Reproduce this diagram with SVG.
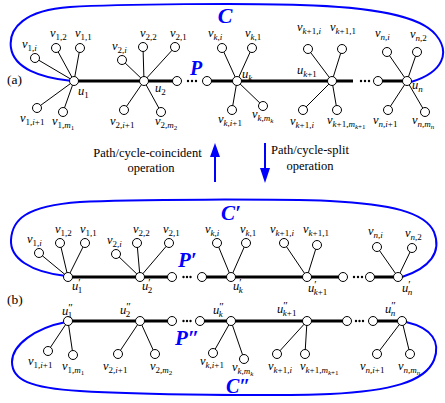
<svg xmlns="http://www.w3.org/2000/svg" width="445" height="403" viewBox="0 0 445 403">
<style>
.thin{stroke:#000;stroke-width:1}
.thick{stroke:#000;stroke-width:3}
.cyc{fill:none;stroke:#0000ff;stroke-width:2}
.n{fill:#fff;stroke:#000;stroke-width:1}
.dot{fill:#000}
.t{font-family:"Liberation Serif",serif;font-size:12.5px;font-style:italic;fill:#000}
.s{font-size:9px;font-style:normal}
.ss{font-size:7px;font-style:normal}
.pr{font-size:11px;font-style:normal}
.i{font-style:italic}
.big{font-family:"Liberation Serif",serif;font-weight:bold;font-style:italic;fill:#0000ff}
.lab{font-family:"Liberation Serif",serif;font-size:12.5px;fill:#000}
.arr{stroke:#0000ff;stroke-width:2}
.head{fill:#0000ff}
</style>
<g id="connectors">
  <path class="cyc" d="M72 81 C40 78,14 68,11 48 C8 28,25 10,70 7 C120 4,250 3,300 5 C370 7,420 15,436 35 C450 52,444 72,411 82"/>
  <path class="cyc" d="M66 276 C30 272,10 258,11 240 C12 220,25 206,80 202 C130 199,280 199,330 201 C390 204,425 212,434 232 C442 252,430 268,402 277"/>
  <path class="cyc" d="M66 322 C35 328,12 345,12 362 C12 380,30 388,80 391 C140 395,280 396,330 394 C390 391,425 382,434 360 C441 342,432 328,406 322"/>
  <line class="thick" x1="74" y1="81" x2="177" y2="81"/>
  <line class="thick" x1="207" y1="81" x2="353" y2="81"/>
  <line class="thick" x1="378" y1="81" x2="407" y2="81"/>
  <line class="thick" x1="68" y1="277" x2="172" y2="277"/>
  <line class="thick" x1="202" y1="277" x2="343" y2="277"/>
  <line class="thick" x1="370" y1="277" x2="398" y2="277"/>
  <line class="thick" x1="68" y1="321" x2="172" y2="321"/>
  <line class="thick" x1="200" y1="321" x2="347" y2="321"/>
  <line class="thick" x1="373" y1="321" x2="402" y2="321"/>
  <circle class="dot" cx="188" cy="81" r="1.2"/><circle class="dot" cx="192" cy="81" r="1.2"/><circle class="dot" cx="196" cy="81" r="1.2"/>
  <circle class="dot" cx="361" cy="81" r="1.2"/><circle class="dot" cx="365" cy="81" r="1.2"/><circle class="dot" cx="369" cy="81" r="1.2"/>
  <circle class="dot" cx="183.5" cy="277" r="1.2"/><circle class="dot" cx="187" cy="277" r="1.2"/><circle class="dot" cx="190.5" cy="277" r="1.2"/>
  <circle class="dot" cx="354" cy="277" r="1.2"/><circle class="dot" cx="358" cy="277" r="1.2"/><circle class="dot" cx="362" cy="277" r="1.2"/>
  <circle class="dot" cx="183.5" cy="321" r="1.2"/><circle class="dot" cx="187" cy="321" r="1.2"/><circle class="dot" cx="190.5" cy="321" r="1.2"/>
  <circle class="dot" cx="356" cy="321" r="1.2"/><circle class="dot" cx="359.5" cy="321" r="1.2"/><circle class="dot" cx="363" cy="321" r="1.2"/>
  <g class="thin">
    <line x1="74" y1="81" x2="35" y2="58"/><line x1="74" y1="81" x2="56" y2="48"/><line x1="74" y1="81" x2="80" y2="48"/><line x1="74" y1="81" x2="37" y2="108"/><line x1="74" y1="81" x2="63" y2="112"/>
    <line x1="144" y1="81" x2="122" y2="60"/><line x1="144" y1="81" x2="143" y2="47"/><line x1="144" y1="81" x2="175" y2="47"/><line x1="144" y1="81" x2="124" y2="110"/><line x1="144" y1="81" x2="161" y2="112"/>
    <line x1="237" y1="81" x2="222" y2="48"/><line x1="237" y1="81" x2="252" y2="48"/><line x1="237" y1="81" x2="232" y2="110"/><line x1="237" y1="81" x2="263" y2="106"/>
    <line x1="332" y1="81" x2="308" y2="49"/><line x1="332" y1="81" x2="342" y2="49"/><line x1="332" y1="81" x2="303" y2="110"/><line x1="332" y1="81" x2="337" y2="110"/>
    <line x1="407" y1="81" x2="387" y2="52"/><line x1="407" y1="81" x2="417" y2="52"/><line x1="407" y1="81" x2="388" y2="110"/><line x1="407" y1="81" x2="425" y2="112"/>
    <line x1="68" y1="277" x2="39" y2="253"/><line x1="68" y1="277" x2="60" y2="243"/><line x1="68" y1="277" x2="85" y2="243"/>
    <line x1="140" y1="277" x2="116" y2="254"/><line x1="140" y1="277" x2="137" y2="243"/><line x1="140" y1="277" x2="169" y2="243"/>
    <line x1="231" y1="277" x2="217" y2="243"/><line x1="231" y1="277" x2="246" y2="243"/>
    <line x1="307" y1="277" x2="284" y2="243"/><line x1="307" y1="277" x2="317" y2="245"/>
    <line x1="398" y1="277" x2="377" y2="247"/><line x1="398" y1="277" x2="412" y2="248"/>
    <line x1="68" y1="321" x2="48" y2="351"/><line x1="68" y1="321" x2="73" y2="355"/>
    <line x1="140" y1="321" x2="118" y2="354"/><line x1="140" y1="321" x2="155" y2="354"/>
    <line x1="231" y1="321" x2="213" y2="353"/><line x1="231" y1="321" x2="244" y2="359"/>
    <line x1="307" y1="321" x2="277" y2="354"/><line x1="307" y1="321" x2="305" y2="354"/>
    <line x1="402" y1="321" x2="377" y2="354"/><line x1="402" y1="321" x2="410" y2="354"/>
  </g>
  <line class="arr" x1="215" y1="182" x2="215" y2="154"/>
  <polygon class="head" points="215,143 210,157 220,157"/>
  <line class="arr" x1="265" y1="143" x2="265" y2="171"/>
  <polygon class="head" points="265,183 260,168 270,168"/>
</g>

<g id="labels">
  <text class="lab" x="7" y="84" style="font-size:13.5px">(a)</text>
  <text class="lab" x="7" y="304" style="font-size:13.5px">(b)</text>
  <text class="big" x="225" y="23" text-anchor="middle" style="font-size:22px">C</text>
  <text class="big" x="196" y="75" text-anchor="middle" style="font-size:20px">P</text>
  <text class="big" x="221" y="220" style="font-size:21px">C′</text>
  <text class="big" x="178" y="267" style="font-size:21px">P′</text>
  <text class="big" x="175" y="345" style="font-size:21px">P″</text>
  <text class="big" x="226" y="393" style="font-size:20px">C″</text>
  <text class="lab" x="147.5" y="157" text-anchor="middle">Path/cycle-coincident</text>
  <text class="lab" x="151" y="172" text-anchor="middle">operation</text>
  <text class="lab" x="310" y="154" text-anchor="middle">Path/cycle-split</text>
  <text class="lab" x="310" y="170" text-anchor="middle">operation</text>
</g>

<g id="a-u1"><circle class="n" cx="74" cy="81" r="4.5"/><text class="t" x="78" y="95">u<tspan class="s" dy="3">1</tspan></text></g>
<g id="a-u2"><circle class="n" cx="144" cy="81" r="4.5"/><text class="t" x="155" y="92">u<tspan class="s" dy="3">2</tspan></text></g>
<g id="a-s1"><circle class="n" cx="177" cy="81" r="4.5"/></g>
<g id="a-s2"><circle class="n" cx="207" cy="81" r="4.5"/></g>
<g id="a-uk"><circle class="n" cx="237" cy="81" r="4.5"/><text class="t" x="242" y="78">u<tspan class="s i" dy="3">k</tspan></text></g>
<g id="a-uk1"><circle class="n" cx="332" cy="81" r="4.5"/><text class="t" x="297" y="74">u<tspan class="s" dy="3"><tspan class="i">k</tspan>+1</tspan></text></g>
<g id="a-s3"><circle class="n" cx="378" cy="81" r="4.5"/></g>
<g id="a-un"><circle class="n" cx="407" cy="81" r="4.5"/><text class="t" x="412" y="89">u<tspan class="s i" dy="3">n</tspan></text></g>

<g id="a-v1i"><circle class="n" cx="35" cy="58" r="4.5"/><text class="t" x="22" y="48">v<tspan class="s" dy="3">1,<tspan class="i">i</tspan></tspan></text></g>
<g id="a-v12"><circle class="n" cx="56" cy="48" r="4.5"/><text class="t" x="50" y="37">v<tspan class="s" dy="3">1,2</tspan></text></g>
<g id="a-v11"><circle class="n" cx="80" cy="48" r="4.5"/><text class="t" x="75" y="37">v<tspan class="s" dy="3">1,1</tspan></text></g>
<g id="a-v1i1"><circle class="n" cx="37" cy="108" r="4.5"/><text class="t" x="20" y="122">v<tspan class="s" dy="3">1,<tspan class="i">i</tspan>+1</tspan></text></g>
<g id="a-v1m"><circle class="n" cx="63" cy="112" r="4.5"/><text class="t" x="52" y="125">v<tspan class="s" dy="3">1,<tspan class="i">m</tspan><tspan class="ss" dy="2">1</tspan></tspan></text></g>

<g id="a-v2i"><circle class="n" cx="122" cy="60" r="4.5"/><text class="t" x="112" y="50">v<tspan class="s" dy="3">2,<tspan class="i">i</tspan></tspan></text></g>
<g id="a-v22"><circle class="n" cx="143" cy="47" r="4.5"/><text class="t" x="140" y="37">v<tspan class="s" dy="3">2,2</tspan></text></g>
<g id="a-v21"><circle class="n" cx="175" cy="47" r="4.5"/><text class="t" x="170" y="37">v<tspan class="s" dy="3">2,1</tspan></text></g>
<g id="a-v2i1"><circle class="n" cx="124" cy="110" r="4.5"/><text class="t" x="110" y="125">v<tspan class="s" dy="3">2,<tspan class="i">i</tspan>+1</tspan></text></g>
<g id="a-v2m"><circle class="n" cx="161" cy="112" r="4.5"/><text class="t" x="155" y="125">v<tspan class="s" dy="3">2,<tspan class="i">m</tspan><tspan class="ss" dy="2">2</tspan></tspan></text></g>

<g id="a-vki"><circle class="n" cx="222" cy="48" r="4.5"/><text class="t" x="208" y="37">v<tspan class="s" dy="3"><tspan class="i">k</tspan>,<tspan class="i">i</tspan></tspan></text></g>
<g id="a-vk1"><circle class="n" cx="252" cy="48" r="4.5"/><text class="t" x="245" y="37">v<tspan class="s" dy="3"><tspan class="i">k</tspan>,1</tspan></text></g>
<g id="a-vki1"><circle class="n" cx="232" cy="110" r="4.5"/><text class="t" x="218" y="123">v<tspan class="s" dy="3"><tspan class="i">k</tspan>,<tspan class="i">i</tspan>+1</tspan></text></g>
<g id="a-vkm"><circle class="n" cx="263" cy="106" r="4.5"/><text class="t" x="252" y="118">v<tspan class="s" dy="3"><tspan class="i">k</tspan>,<tspan class="i">m</tspan><tspan class="ss i" dy="2">k</tspan></tspan></text></g>

<g id="a-vk1i"><circle class="n" cx="308" cy="49" r="4.5"/><text class="t" x="297" y="31">v<tspan class="s" dy="3"><tspan class="i">k</tspan>+1,<tspan class="i">i</tspan></tspan></text></g>
<g id="a-vk11"><circle class="n" cx="342" cy="49" r="4.5"/><text class="t" x="330" y="31">v<tspan class="s" dy="3"><tspan class="i">k</tspan>+1,1</tspan></text></g>
<g id="a-vk1ib"><circle class="n" cx="303" cy="110" r="4.5"/><text class="t" x="290" y="125">v<tspan class="s" dy="3"><tspan class="i">k</tspan>+1,<tspan class="i">i</tspan></tspan></text></g>
<g id="a-vk1m"><circle class="n" cx="337" cy="110" r="4.5"/><text class="t" x="327" y="124">v<tspan class="s" dy="3"><tspan class="i">k</tspan>+1,<tspan class="i">m</tspan><tspan class="ss" dy="2"><tspan class="i">k</tspan>+1</tspan></tspan></text></g>

<g id="a-vni"><circle class="n" cx="387" cy="52" r="4.5"/><text class="t" x="375" y="37">v<tspan class="s" dy="3"><tspan class="i">n</tspan>,<tspan class="i">i</tspan></tspan></text></g>
<g id="a-vn2"><circle class="n" cx="417" cy="52" r="4.5"/><text class="t" x="410" y="38">v<tspan class="s" dy="3"><tspan class="i">n</tspan>,2</tspan></text></g>
<g id="a-vni1"><circle class="n" cx="388" cy="110" r="4.5"/><text class="t" x="373" y="124">v<tspan class="s" dy="3"><tspan class="i">n</tspan>,<tspan class="i">i</tspan>+1</tspan></text></g>
<g id="a-vnm"><circle class="n" cx="425" cy="112" r="4.5"/><text class="t" x="412" y="124">v<tspan class="s" dy="3"><tspan class="i">n</tspan>,<tspan class="i">m</tspan><tspan class="ss i" dy="2">n</tspan></tspan></text></g>

<g id="b-u1p"><circle class="n" cx="68" cy="277" r="4.5"/><text class="t" x="72" y="290">u<tspan class="pr" dy="-4">′</tspan><tspan class="s" dx="-3" dy="7">1</tspan></text></g>
<g id="b-u2p"><circle class="n" cx="140" cy="277" r="4.5"/><text class="t" x="142" y="290">u<tspan class="pr" dy="-4">′</tspan><tspan class="s" dx="-3" dy="7">2</tspan></text></g>
<g id="b-s1p"><circle class="n" cx="172" cy="277" r="4.5"/></g>
<g id="b-s2p"><circle class="n" cx="202" cy="277" r="4.5"/></g>
<g id="b-ukp"><circle class="n" cx="231" cy="277" r="4.5"/><text class="t" x="233" y="290">u<tspan class="pr" dy="-4">′</tspan><tspan class="s i" dx="-3" dy="7">k</tspan></text></g>
<g id="b-uk1p"><circle class="n" cx="307" cy="277" r="4.5"/><text class="t" x="308" y="292">u<tspan class="pr" dy="-4">′</tspan><tspan class="s" dx="-3" dy="7"><tspan class="i">k</tspan>+1</tspan></text></g>
<g id="b-s3p"><circle class="n" cx="343" cy="277" r="4.5"/></g>
<g id="b-s4p"><circle class="n" cx="370" cy="277" r="4.5"/></g>
<g id="b-unp"><circle class="n" cx="398" cy="277" r="4.5"/><text class="t" x="402" y="292">u<tspan class="pr" dy="-4">′</tspan><tspan class="s i" dx="-3" dy="7">n</tspan></text></g>

<g id="b-v1i"><circle class="n" cx="39" cy="253" r="4.5"/><text class="t" x="27" y="243">v<tspan class="s" dy="3">1,<tspan class="i">i</tspan></tspan></text></g>
<g id="b-v12"><circle class="n" cx="60" cy="243" r="4.5"/><text class="t" x="55" y="233">v<tspan class="s" dy="3">1,2</tspan></text></g>
<g id="b-v11"><circle class="n" cx="85" cy="243" r="4.5"/><text class="t" x="80" y="233">v<tspan class="s" dy="3">1,1</tspan></text></g>
<g id="b-v2i"><circle class="n" cx="116" cy="254" r="4.5"/><text class="t" x="107" y="244">v<tspan class="s" dy="3">2,<tspan class="i">i</tspan></tspan></text></g>
<g id="b-v22"><circle class="n" cx="137" cy="243" r="4.5"/><text class="t" x="133" y="233">v<tspan class="s" dy="3">2,2</tspan></text></g>
<g id="b-v21"><circle class="n" cx="169" cy="243" r="4.5"/><text class="t" x="163" y="233">v<tspan class="s" dy="3">2,1</tspan></text></g>
<g id="b-vki"><circle class="n" cx="217" cy="243" r="4.5"/><text class="t" x="205" y="233">v<tspan class="s" dy="3"><tspan class="i">k</tspan>,<tspan class="i">i</tspan></tspan></text></g>
<g id="b-vk1"><circle class="n" cx="246" cy="243" r="4.5"/><text class="t" x="240" y="233">v<tspan class="s" dy="3"><tspan class="i">k</tspan>,1</tspan></text></g>
<g id="b-vk1i"><circle class="n" cx="284" cy="243" r="4.5"/><text class="t" x="270" y="233">v<tspan class="s" dy="3"><tspan class="i">k</tspan>+1,<tspan class="i">i</tspan></tspan></text></g>
<g id="b-vk11"><circle class="n" cx="317" cy="245" r="4.5"/><text class="t" x="303" y="233">v<tspan class="s" dy="3"><tspan class="i">k</tspan>+1,1</tspan></text></g>
<g id="b-vni"><circle class="n" cx="377" cy="247" r="4.5"/><text class="t" x="368" y="235">v<tspan class="s" dy="3"><tspan class="i">n</tspan>,<tspan class="i">i</tspan></tspan></text></g>
<g id="b-vn2"><circle class="n" cx="412" cy="248" r="4.5"/><text class="t" x="405" y="237">v<tspan class="s" dy="3"><tspan class="i">n</tspan>,2</tspan></text></g>

<g id="b-u1pp"><circle class="n" cx="68" cy="321" r="4.5"/><text class="t" x="62" y="315">u<tspan class="pr" dy="-4">″</tspan><tspan class="s" dx="-5" dy="7">1</tspan></text></g>
<g id="b-u2pp"><circle class="n" cx="140" cy="321" r="4.5"/><text class="t" x="120" y="314">u<tspan class="pr" dy="-4">″</tspan><tspan class="s" dx="-5" dy="7">2</tspan></text></g>
<g id="b-s1pp"><circle class="n" cx="172" cy="321" r="4.5"/></g>
<g id="b-s2pp"><circle class="n" cx="200" cy="321" r="4.5"/></g>
<g id="b-ukpp"><circle class="n" cx="231" cy="321" r="4.5"/><text class="t" x="213" y="314">u<tspan class="pr" dy="-4">″</tspan><tspan class="s i" dx="-5" dy="7">k</tspan></text></g>
<g id="b-uk1pp"><circle class="n" cx="307" cy="321" r="4.5"/><text class="t" x="277" y="313">u<tspan class="pr" dy="-4">″</tspan><tspan class="s" dx="-5" dy="7"><tspan class="i">k</tspan>+1</tspan></text></g>
<g id="b-s3pp"><circle class="n" cx="347" cy="321" r="4.5"/></g>
<g id="b-s4pp"><circle class="n" cx="373" cy="321" r="4.5"/></g>
<g id="b-unpp"><circle class="n" cx="402" cy="321" r="4.5"/><text class="t" x="385" y="313">u<tspan class="pr" dy="-4">″</tspan><tspan class="s i" dx="-5" dy="7">n</tspan></text></g>

<g id="b-v1i1"><circle class="n" cx="48" cy="351" r="4.5"/><text class="t" x="28" y="365">v<tspan class="s" dy="3">1,<tspan class="i">i</tspan>+1</tspan></text></g>
<g id="b-v1m"><circle class="n" cx="73" cy="355" r="4.5"/><text class="t" x="62" y="370">v<tspan class="s" dy="3">1,<tspan class="i">m</tspan><tspan class="ss" dy="2">1</tspan></tspan></text></g>
<g id="b-v2i1"><circle class="n" cx="118" cy="354" r="4.5"/><text class="t" x="103" y="370">v<tspan class="s" dy="3">2,<tspan class="i">i</tspan>+1</tspan></text></g>
<g id="b-v2m"><circle class="n" cx="155" cy="354" r="4.5"/><text class="t" x="150" y="370">v<tspan class="s" dy="3">2,<tspan class="i">m</tspan><tspan class="ss" dy="2">2</tspan></tspan></text></g>
<g id="b-vki1"><circle class="n" cx="213" cy="353" r="4.5"/><text class="t" x="200" y="365">v<tspan class="s" dy="3"><tspan class="i">k</tspan>,<tspan class="i">i</tspan>+1</tspan></text></g>
<g id="b-vkm"><circle class="n" cx="244" cy="359" r="4.5"/><text class="t" x="232" y="371">v<tspan class="s" dy="3"><tspan class="i">k</tspan>,<tspan class="i">m</tspan><tspan class="ss i" dy="1.5">k</tspan></tspan></text></g>
<g id="b-vk1i"><circle class="n" cx="277" cy="354" r="4.5"/><text class="t" x="268" y="370">v<tspan class="s" dy="3"><tspan class="i">k</tspan>+1,<tspan class="i">i</tspan></tspan></text></g>
<g id="b-vk1m"><circle class="n" cx="305" cy="354" r="4.5"/><text class="t" x="300" y="370">v<tspan class="s" dy="3"><tspan class="i">k</tspan>+1,<tspan class="i">m</tspan><tspan class="ss" dy="2"><tspan class="i">k</tspan>+1</tspan></tspan></text></g>
<g id="b-vni1"><circle class="n" cx="377" cy="354" r="4.5"/><text class="t" x="360" y="370">v<tspan class="s" dy="3"><tspan class="i">n</tspan>,<tspan class="i">i</tspan>+1</tspan></text></g>
<g id="b-vnm"><circle class="n" cx="410" cy="354" r="4.5"/><text class="t" x="398" y="370">v<tspan class="s" dy="3"><tspan class="i">n</tspan>,<tspan class="i">m</tspan><tspan class="ss i" dy="2">n</tspan></tspan></text></g>
</svg>
